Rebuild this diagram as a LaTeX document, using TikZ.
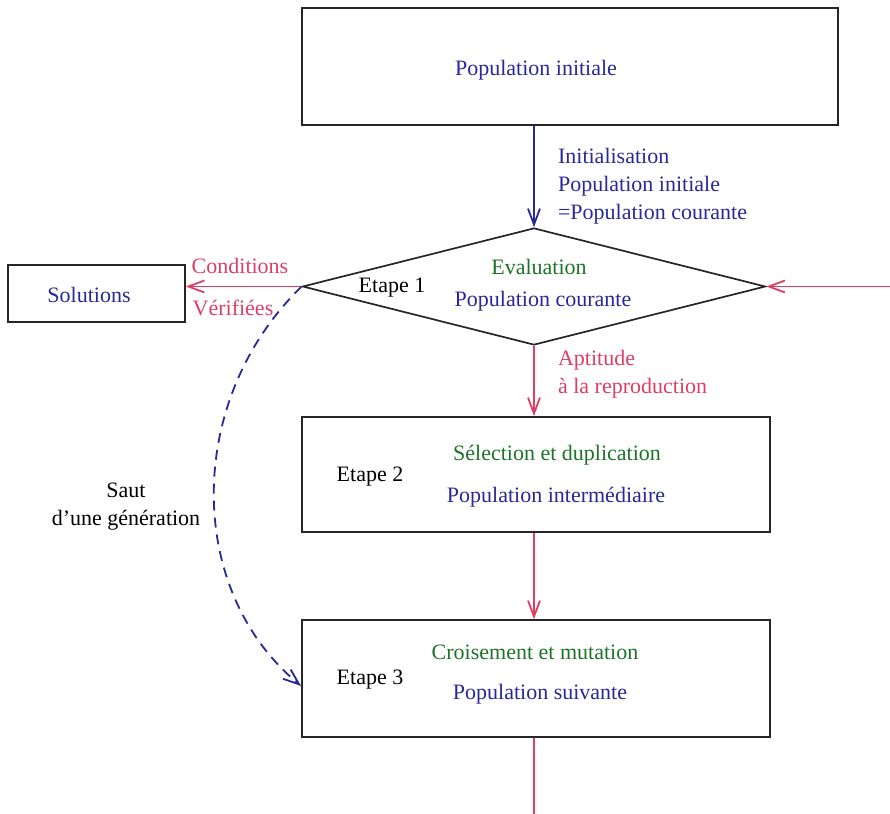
\documentclass[tikz,border=0pt]{standalone}
\usepackage{fontspec}
\setmainfont{Liberation Serif}
\usetikzlibrary{arrows.meta, shapes.geometric}
\definecolor{bleu}{RGB}{40,40,150}
\definecolor{vert}{RGB}{30,115,40}
\definecolor{rouge}{RGB}{222,62,102}
\tikzset{
  every node/.style={font=\fontsize{11}{14}\selectfont},
  etape/.style={draw=black!85, line width=0.85pt, inner sep=0pt},
  arr/.style={-{Straight Barb[length=8pt,width=6pt]}, line width=0.9pt},
  barr/.style={arr, draw=bleu},
  rarr/.style={arr, draw=rouge},
}
\begin{document}
\begin{tikzpicture}[x=0.5pt, y=-0.5pt]
    \useasboundingbox (0,0) rectangle (890,814);
        % Boxes and decision
        \node[etape, minimum width=268pt, minimum height=58.5pt] (init) at (570,66.5) {};
        \node[text=bleu] (initlbl) at (536,70) {Population initiale};
        
        \node[etape, diamond, minimum width=231.5pt, minimum height=58.5pt] (eval) at (534,286.5) {};
        \node (etape1) at (392,288) {Etape 1};
        \node[text=vert] (evallbl) at (539,267) {Evaluation};
        \node[text=bleu] (courante) at (543,301) {Population courante};
        
        \node[etape, minimum width=88.5pt, minimum height=28.5pt] (sol) at (96.5,293.5) {};
        \node[text=bleu] (sollbl) at (89,295) {Solutions};
        
        \node[etape, minimum width=234pt, minimum height=57.5pt] (select) at (536,474.5) {};
        \node (etape2) at (370,477) {Etape 2};
        \node[text=vert] (selectlbl) at (557,455) {Sélection et duplication};
        \node[text=bleu] (interm) at (556,497) {Population intermédiaire};
        
        \node[etape, minimum width=234pt, minimum height=58.5pt] (crois) at (536,678.5) {};
        \node (etape3) at (370,680) {Etape 3};
        \node[text=vert] (croislbl) at (535,652) {Croisement et mutation};
        \node[text=bleu] (suivante) at (540,694) {Population suivante};
        
        % Free ends
        \coordinate (retour) at (890,286.5);
        \coordinate (suite) at (534,814);
        
        % Connectors
        \draw[barr] (init.south -| eval.north) -- (eval.north);
        \node[text=bleu, anchor=west, align=left] (initnote) at (551,186)
          {Initialisation\\Population initiale\\=Population courante};
        
        \draw[rarr] (retour) -- (eval.east);
        \draw[rarr] (eval.west) -- (sol.east |- eval.west);
        \node[text=rouge] (cond) at (240,266) {Conditions};
        \node[text=rouge] (verif) at (233,308) {Vérifiées};
        
        \draw[rarr] (eval.south) -- (select.north -| eval.south);
        \node[text=rouge, anchor=west, align=left] (aptitude) at (551,374.5)
          {Aptitude\\à la reproduction};
        
        \draw[rarr] (select.south -| eval.south) -- (crois.north -| eval.south);
        \draw[draw=rouge, line width=0.9pt] (crois.south -| suite) -- (suite);
        
        \draw[barr, dashed, dash pattern=on 5pt off 3.5pt] (eval.west)
          .. controls (185,400) and (185,590) .. (crois.west |- 0,686);
        \node[align=center] (saut) at (126,507) {Saut\\d'une génération};
    
    \end{tikzpicture}
\end{document}
